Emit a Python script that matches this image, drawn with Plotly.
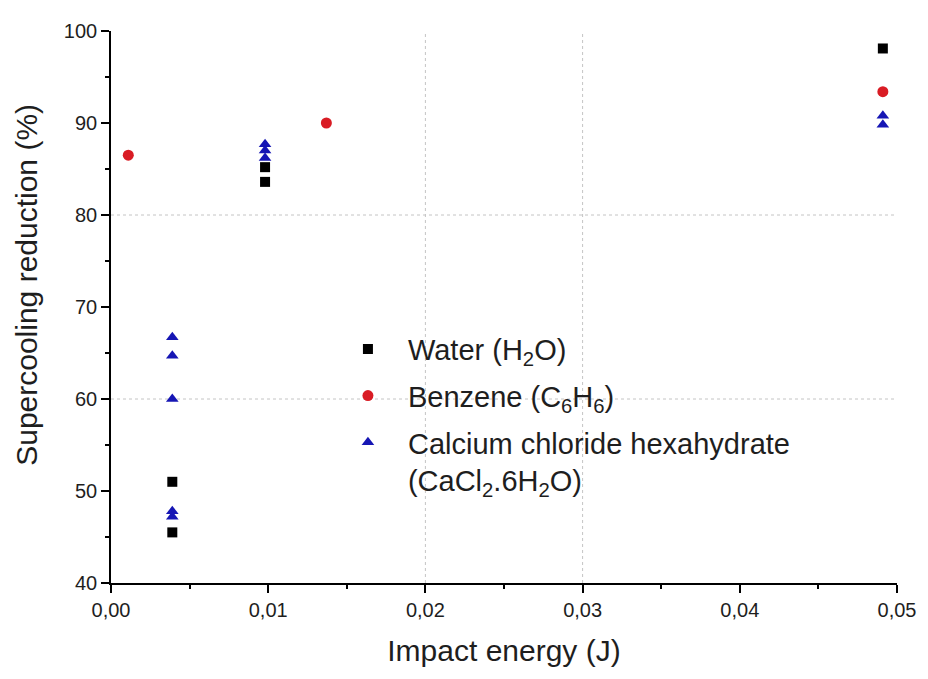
import plotly.graph_objects as go

# Data
water_x = [0.0039, 0.0039, 0.0098, 0.0098, 0.0491]
water_y = [51.0, 45.5, 85.2, 83.6, 98.1]

benzene_x = [0.0011, 0.0137, 0.0491]
benzene_y = [86.5, 90.0, 93.4]

cacl_x = [0.0039, 0.0039, 0.0039, 0.0039, 0.0039, 0.0098, 0.0098, 0.0098, 0.0491, 0.0491]
cacl_y = [66.7, 64.7, 60.0, 47.8, 47.2, 87.7, 87.0, 86.2, 90.8, 89.8]

names = ["Water (H<sub>2</sub>O)",
         "Benzene (C<sub>6</sub>H<sub>6</sub>)",
         "Calcium chloride hexahydrate<br>(CaCl<sub>2</sub>.6H<sub>2</sub>O)"]

x_title = "Impact energy (J)"
y_title = "Supercooling reduction (%)"

grid_x = [0.02, 0.03]
grid_y = [60, 80]

FONT = "Liberation Sans, Arial, sans-serif"
TXT = "#1e1e1e"

fig = go.Figure()
fig.add_trace(go.Scatter(x=water_x, y=water_y, mode="markers", name=names[0], legendgroup="a",
                         marker=dict(symbol="square", size=10, color="black")))
fig.add_trace(go.Scatter(x=benzene_x, y=benzene_y, mode="markers", name=names[1], legendgroup="b",
                         marker=dict(symbol="circle", size=11, color="#d91c24")))
fig.add_trace(go.Scatter(x=cacl_x, y=cacl_y, mode="markers", name=names[2], legendgroup="c",
                         marker=dict(symbol="triangle-up", size=11, color="#1616b4")))

for gx in grid_x:
    fig.add_shape(type="line", xref="x", yref="paper", x0=gx, x1=gx, y0=0, y1=1,
                  line=dict(color="#c4c4c4", width=1, dash="dot"), layer="below")
for gy in grid_y:
    fig.add_shape(type="line", xref="paper", yref="y", x0=0, x1=1, y0=gy, y1=gy,
                  line=dict(color="#c4c4c4", width=1, dash="dot"), layer="below")

fig.add_annotation(text=y_title, xref="paper", yref="paper", x=-0.107, y=0.54,
                   xanchor="center", yanchor="middle", textangle=-90, showarrow=False,
                   font=dict(size=30, family=FONT, color=TXT))

fig.update_layout(
    width=920, height=671,
    margin=dict(l=103, r=31, t=14, b=96),
    paper_bgcolor="white", plot_bgcolor="white",
    separators=",.",
    font=dict(family=FONT, color=TXT, size=20),
    showlegend=True,
    legend=dict(x=0.276, y=0.47, xanchor="left", yanchor="top",
                bgcolor="rgba(0,0,0,0)", font=dict(family=FONT, size=29, color=TXT),
                traceorder="grouped", tracegroupgap=6, valign="top", itemwidth=70),
    xaxis=dict(range=[0, 0.05], dtick=0.01, tickformat=".2f",
               showline=True, linecolor="black", linewidth=1.6, mirror=False,
               ticks="outside", ticklen=8, tickcolor="black", tickwidth=1.6,
               minor=dict(dtick=0.005, ticks="outside", ticklen=4, tickcolor="black", showgrid=False),
               showgrid=False, zeroline=False,
               tickfont=dict(size=20, family=FONT, color=TXT),
               title=dict(text=x_title, font=dict(size=30, family=FONT, color=TXT), standoff=20)),
    yaxis=dict(range=[40, 100], dtick=10,
               showline=True, linecolor="black", linewidth=1.6, mirror=False,
               ticks="outside", ticklen=8, tickcolor="black", tickwidth=1.6,
               minor=dict(dtick=5, ticks="outside", ticklen=4, tickcolor="black", showgrid=False),
               showgrid=False, zeroline=False,
               tickfont=dict(size=20, family=FONT, color=TXT)),
)

fig.write_html("out.html")
